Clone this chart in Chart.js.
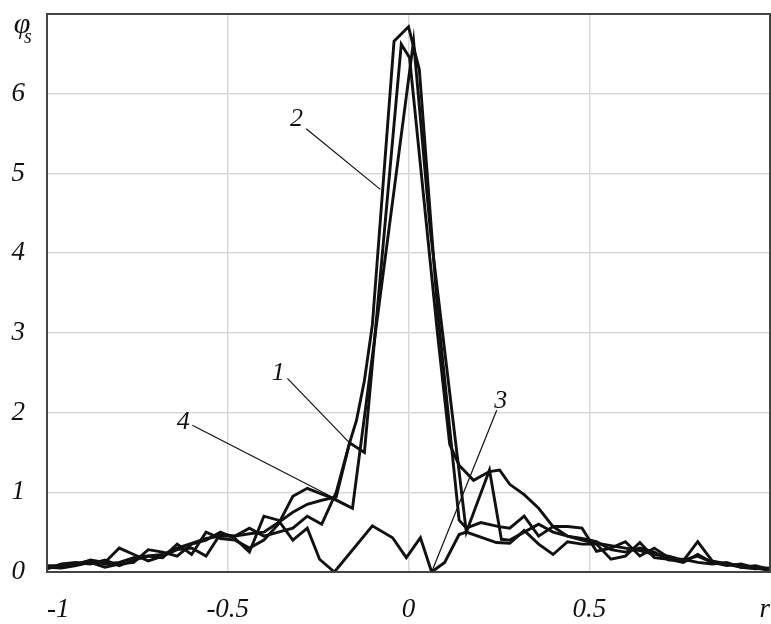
<!DOCTYPE html>
<html lang="en">
<head>
  <meta charset="UTF-8">
  <title>phi_s (r)</title>
  <style>
    body {
      margin: 0;
      padding: 0;
      background-color: #ffffff;
    }
    #wrap {
      width: 771px;
      height: 624px;
    }
  </style>
</head>
<body>
  <div id="wrap">
    <canvas id="phiChart" width="771" height="624"></canvas>
  </div>

  <script src="https://cdn.jsdelivr.net/npm/chart.js"></script>

  <script>
    // Shared r grid for the tails of every curve
    const rLeft = [-1, -0.96, -0.92, -0.88, -0.84, -0.8, -0.76, -0.72, -0.68, -0.64,
                   -0.6, -0.56, -0.52, -0.48, -0.44, -0.4, -0.36, -0.32, -0.28];
    const rRight = [0.28, 0.32, 0.36, 0.4, 0.44, 0.48, 0.52, 0.56, 0.6, 0.64,
                    0.68, 0.72, 0.76, 0.8, 0.84, 0.88, 0.92, 0.96, 1];

    // Curve 1
    const phi1Left = [0.08, 0.08, 0.1, 0.14, 0.1, 0.12, 0.18, 0.2, 0.22, 0.3, 0.36, 0.42, 0.45, 0.45, 0.48, 0.5, 0.62, 0.75, 0.85];
    const r1Mid = [-0.24, -0.2, -0.163, -0.122, -0.02, 0.003, 0.08, 0.114, 0.14, 0.18, 0.224, 0.252];
    const phi1Mid = [0.9, 0.94, 1.62, 1.5, 6.62, 6.45, 3.0, 1.6, 1.34, 1.15, 1.26, 1.28];
    const phi1Right = [1.1, 0.97, 0.8, 0.57, 0.45, 0.4, 0.36, 0.33, 0.3, 0.27, 0.22, 0.2, 0.15, 0.2, 0.12, 0.1, 0.08, 0.06, 0.04];

    // Curve 2
    const phi2Left = [0.05, 0.07, 0.09, 0.15, 0.12, 0.3, 0.22, 0.14, 0.2, 0.28, 0.3, 0.2, 0.48, 0.45, 0.55, 0.45, 0.5, 0.55, 0.7];
    const r2Mid = [-0.24, -0.2, -0.163, -0.144, -0.122, -0.1, -0.04, 0, 0.03, 0.08, 0.14, 0.16, 0.2, 0.25];
    const phi2Mid = [0.6, 1.0, 1.62, 1.9, 2.4, 3.1, 6.66, 6.84, 6.3, 3.3, 0.65, 0.55, 0.62, 0.57];
    const phi2Right = [0.55, 0.7, 0.45, 0.57, 0.57, 0.55, 0.26, 0.3, 0.38, 0.2, 0.3, 0.18, 0.14, 0.38, 0.14, 0.1, 0.06, 0.08, 0.03];

    // Curve 3
    const phi3Left = [0.06, 0.05, 0.08, 0.12, 0.06, 0.1, 0.12, 0.28, 0.25, 0.2, 0.35, 0.4, 0.5, 0.42, 0.25, 0.7, 0.65, 0.4, 0.55];
    const r3Mid = [-0.246, -0.205, -0.1, -0.044, -0.006, 0.033, 0.064, 0.1, 0.14, 0.16, 0.243];
    const phi3Mid = [0.16, 0, 0.58, 0.43, 0.18, 0.43, 0, 0.12, 0.47, 0.5, 0.37];
    const phi3Right = [0.36, 0.52, 0.35, 0.22, 0.38, 0.35, 0.35, 0.16, 0.2, 0.37, 0.18, 0.16, 0.12, 0.22, 0.12, 0.08, 0.1, 0.05, 0.02];

    // Curve 4
    const phi4Left = [0.04, 0.1, 0.12, 0.1, 0.15, 0.08, 0.15, 0.2, 0.18, 0.35, 0.22, 0.5, 0.42, 0.4, 0.3, 0.4, 0.6, 0.95, 1.05];
    const r4Mid = [-0.213, -0.155, 0.014, 0.06, 0.16, 0.224, 0.257];
    const phi4Mid = [0.93, 0.8, 6.66, 4.3, 0.5, 1.28, 0.41];
    const phi4Right = [0.4, 0.5, 0.6, 0.5, 0.45, 0.42, 0.38, 0.28, 0.25, 0.3, 0.25, 0.15, 0.16, 0.12, 0.1, 0.12, 0.06, 0.04, 0.05];

    // Curve numbers with their leader lines (data coordinates)
    const curveLabels = ['1', '2', '3', '4'];
    const labelR = [-0.36, -0.31, 0.255, -0.623];
    const labelPhi = [2.5, 5.68, 2.14, 1.88];
    const leaderFromR = [-0.335, -0.283, 0.244, -0.598];
    const leaderFromPhi = [2.43, 5.56, 2.03, 1.84];
    const leaderToR = [-0.163, -0.078, 0.064, -0.155];
    const leaderToPhi = [1.62, 4.8, 0.0, 0.81];

    const serif = "'Liberation Serif', 'Times New Roman', serif";

    function toPoints(rs, phis) {
      return rs.map((r, i) => ({ x: r, y: phis[i] }));
    }

    const curves = [
      toPoints([...rLeft, ...r1Mid, ...rRight], [...phi1Left, ...phi1Mid, ...phi1Right]),
      toPoints([...rLeft, ...r2Mid, ...rRight], [...phi2Left, ...phi2Mid, ...phi2Right]),
      toPoints([...rLeft, ...r3Mid, ...rRight], [...phi3Left, ...phi3Mid, ...phi3Right]),
      toPoints([...rLeft, ...r4Mid, ...rRight], [...phi4Left, ...phi4Mid, ...phi4Right])
    ];

    // Frame, axis name and numbered leaders
    const decorations = {
      id: 'decorations',
      afterDatasetsDraw(chart) {
        const { ctx, chartArea, scales } = chart;
        const xs = scales.x, ys = scales.y;
        ctx.save();

        ctx.strokeStyle = '#444';
        ctx.lineWidth = 2;
        ctx.strokeRect(chartArea.left, chartArea.top, chartArea.right - chartArea.left, chartArea.bottom - chartArea.top);

        ctx.strokeStyle = '#111';
        ctx.lineWidth = 1.2;
        for (let i = 0; i < curveLabels.length; i++) {
          ctx.beginPath();
          ctx.moveTo(xs.getPixelForValue(leaderFromR[i]), ys.getPixelForValue(leaderFromPhi[i]));
          ctx.lineTo(xs.getPixelForValue(leaderToR[i]), ys.getPixelForValue(leaderToPhi[i]));
          ctx.stroke();
        }

        ctx.fillStyle = '#111';
        ctx.textAlign = 'center';
        ctx.textBaseline = 'middle';
        ctx.font = 'italic 26px ' + serif;
        for (let i = 0; i < curveLabels.length; i++) {
          ctx.fillText(curveLabels[i], xs.getPixelForValue(labelR[i]), ys.getPixelForValue(labelPhi[i]));
        }

        // axis name phi_s, left of the top edge
        ctx.font = 'italic 30px ' + serif;
        ctx.fillText('\u03C6', 22, 25);
        ctx.font = 'italic 20px ' + serif;
        ctx.fillText('s', 28, 38);
        ctx.restore();
      }
    };

    const tickFont = { family: serif, size: 27, style: 'italic' };

    new Chart(document.getElementById('phiChart'), {
      type: 'line',
      data: {
        datasets: curves.map((pts, i) => ({
          label: curveLabels[i],
          data: pts,
          borderColor: '#111',
          borderWidth: 2.9,
          pointRadius: 0,
          tension: 0,
          fill: false
        }))
      },
      options: {
        responsive: false,
        animation: false,
        layout: { padding: { top: 14, right: 1, left: 0, bottom: 0 } },
        plugins: {
          legend: { display: false },
          tooltip: { enabled: false }
        },
        scales: {
          x: {
            type: 'linear',
            min: -1,
            max: 1,
            // fixed band under the plot; the end labels sit inside it
            afterFit(scale) {
              scale.height = 52;
              scale.paddingLeft = 0;
              scale.paddingRight = 0;
            },
            ticks: {
              stepSize: 0.5,
              align: 'inner',
              padding: 22,
              color: '#111',
              font: tickFont,
              maxRotation: 0,
              callback: v => (v === 1 ? 'r' : String(v))
            },
            grid: { color: '#d9d9d9', lineWidth: 1.5, drawTicks: false },
            border: { color: '#444', width: 2 }
          },
          y: {
            min: 0,
            max: 7,
            afterFit(scale) {
              scale.width = 47;
              scale.paddingTop = 0;
              scale.paddingBottom = 0;
            },
            ticks: {
              stepSize: 1,
              padding: 22,
              color: '#111',
              font: tickFont,
              callback: v => (v === 7 ? '' : String(v))
            },
            grid: { color: '#d9d9d9', lineWidth: 1.5, drawTicks: false },
            border: { color: '#444', width: 2 }
          }
        }
      },
      plugins: [decorations]
    });
  </script>
</body>
</html>
